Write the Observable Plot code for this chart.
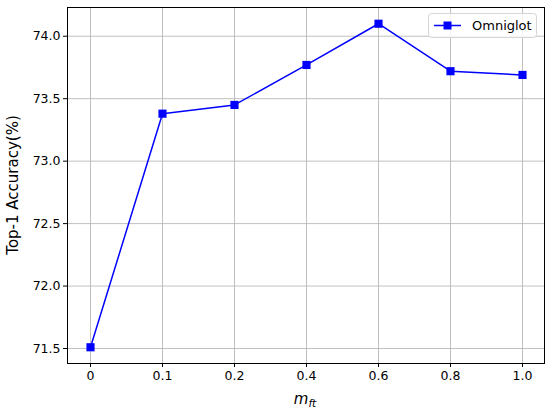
<!DOCTYPE html>
<html><head><meta charset="utf-8">
<script src="https://cdn.jsdelivr.net/npm/d3@7"></script>
<script src="https://cdn.jsdelivr.net/npm/@observablehq/plot@0.6"></script>
<style>body{margin:0;background:#fff;} #c{position:relative;width:550px;height:412px;}</style>
</head><body><div id="c"></div>
<script>
const categories = ["0", "0.1", "0.2", "0.4", "0.6", "0.8", "1.0"];
const omniglot = [71.51, 73.38, 73.45, 73.77, 74.10, 73.72, 73.69];
const yTicks = [71.5, 72.0, 72.5, 73.0, 73.5, 74.0];
const seriesName = "Omniglot";
const data = categories.map((c, i) => ({x: c, y: omniglot[i]}));

const blue = "#0000ff";
const chart = Plot.plot({
  width: 550, height: 412,
  marginLeft: 67, marginRight: 6, marginTop: 7, marginBottom: 49,
  style: {fontFamily: "DejaVu Sans", fontSize: "12.5px", color: "#000", background: "#fff"},
  x: {type: "point", domain: categories, padding: 0.3, label: null},
  y: {domain: [71.38, 74.23], label: null},
  marks: [
    Plot.gridX(categories, {stroke: "#b0b0b0", strokeOpacity: 1, strokeWidth: 0.8}),
    Plot.gridY(yTicks, {stroke: "#b0b0b0", strokeOpacity: 1, strokeWidth: 0.8}),
    Plot.axisX(categories, {tickSize: 4, tickPadding: 4, fontSize: 12.5, label: null}),
    Plot.axisY(yTicks, {tickSize: 4, tickPadding: 3, fontSize: 12.5, tickFormat: d3.format(".1f"), label: null}),
    Plot.line(data, {x: "x", y: "y", stroke: blue, strokeWidth: 1.5}),
    Plot.dot(data, {x: "x", y: "y", symbol: "square", fill: blue, r: 4.6}),
    Plot.frame({stroke: "#000", strokeWidth: 1})
  ]
});
document.getElementById("c").appendChild(chart);

const svg = d3.select(chart);
// y label
svg.append("text").attr("transform", "translate(18,185) rotate(-90)")
  .attr("text-anchor", "middle").attr("font-family", "DejaVu Sans").attr("font-size", 15)
  .attr("fill", "#000").text("Top-1 Accuracy(%)");
// x label
const xl = svg.append("text").attr("x", 305).attr("y", 404).attr("text-anchor", "middle")
  .attr("font-family", "DejaVu Sans").attr("font-size", 15).attr("font-style", "italic").attr("fill", "#000");
xl.append("tspan").text("m");
xl.append("tspan").attr("font-size", 10.5).attr("dy", 3).text("ft");
// legend
const lg = svg.append("g");
lg.append("rect").attr("x", 428.5).attr("y", 13.5).attr("width", 108).attr("height", 24).attr("rx", 3)
  .attr("fill", "#fff").attr("fill-opacity", 0.8).attr("stroke", "#d6d6d6");
lg.append("line").attr("x1", 434).attr("x2", 461).attr("y1", 25.5).attr("y2", 25.5).attr("stroke", blue).attr("stroke-width", 1.5);
lg.append("rect").attr("x", 443.5).attr("y", 21.5).attr("width", 8).attr("height", 8).attr("fill", blue);
lg.append("text").attr("x", 472).attr("y", 30).attr("text-anchor", "start").attr("font-family", "DejaVu Sans").attr("font-size", 13).attr("fill", "#000").text(seriesName);
</script></body></html>
